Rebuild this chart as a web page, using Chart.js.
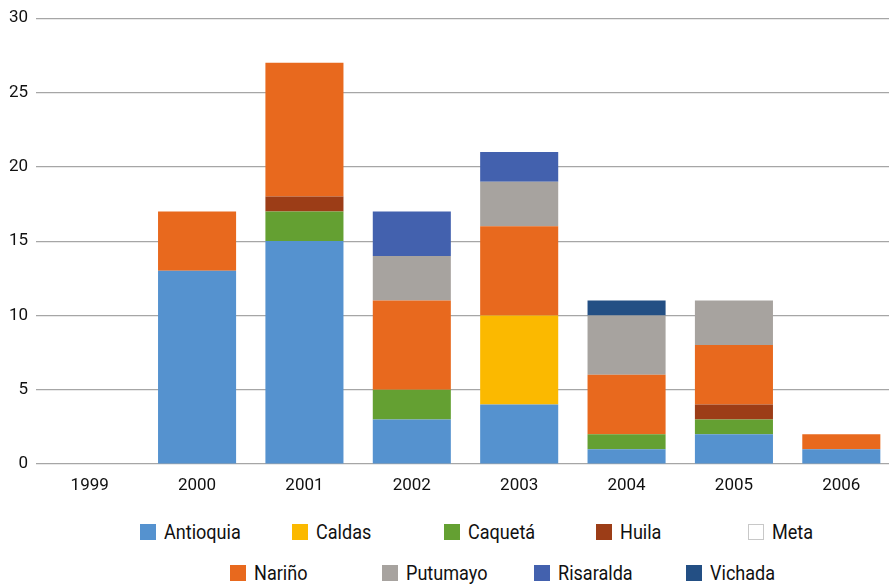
<!DOCTYPE html>
<html>
<head>
<meta charset="utf-8">
<script src="https://cdn.jsdelivr.net/npm/chart.js@4/dist/chart.umd.min.js"></script>
<style>
  html, body { margin: 0; padding: 0; background: #fff; overflow: hidden; width: 889px; height: 584px; }
  #wrap { position: absolute; left: 0; top: 0; width: 895px; height: 500px; }
  .legend-row { position: absolute; white-space: nowrap; font-family: "Roboto", sans-serif; font-size: 21px; color: #111; }
  .item { position: absolute; top: 0; height: 24px; line-height: 24px; }
  .box { position: absolute; left: 0; top: 4px; width: 16px; height: 16px; box-sizing: border-box; }
  .txt { position: absolute; left: 24px; top: 0; transform: scaleX(0.86); transform-origin: 0 50%; }
</style>
</head>
<body>
<div id="wrap"><canvas id="c"></canvas></div>
<div id="leg1" class="legend-row" style="left:140px; top:520px;"></div>
<div id="leg2" class="legend-row" style="left:230px; top:561px;"></div>
<script>
const years = ["1999", "2000", "2001", "2002", "2003", "2004", "2005", "2006"];
const seriesNames = ["Antioquia", "Caldas", "Caquetá", "Huila", "Meta", "Nariño", "Putumayo", "Risaralda", "Vichada"];
const antioquia = [0, 13, 15, 3, 4, 1, 2, 1];
const caldas    = [0, 0, 0, 0, 6, 0, 0, 0];
const caqueta   = [0, 0, 2, 2, 0, 1, 1, 0];
const huila     = [0, 0, 1, 0, 0, 0, 1, 0];
const meta      = [0, 0, 0, 0, 0, 0, 0, 0];
const narino    = [0, 4, 9, 6, 6, 4, 4, 1];
const putumayo  = [0, 0, 0, 3, 3, 4, 3, 0];
const risaralda = [0, 0, 0, 3, 2, 0, 0, 0];
const vichada   = [0, 0, 0, 0, 0, 1, 0, 0];
const yTicks = [0, 5, 10, 15, 20, 25, 30];

const values = [antioquia, caldas, caqueta, huila, meta, narino, putumayo, risaralda, vichada];
const colors = ["#5592CF", "#FBB900", "#64A032", "#9C3D17", "#FFFFFF", "#E8691E", "#A7A39F", "#4361AE", "#234F84"];
const borders = [null, null, null, null, "#C8C8C8", null, null, null, null];

const FONT = "'Roboto', sans-serif";

const datasets = seriesNames.map((n, i) => ({
  label: n,
  data: values[i].map(v => (v === 0 ? null : v)),
  backgroundColor: colors[i],
  borderWidth: 0,
  barPercentage: 0.727,
  categoryPercentage: 1.0
}));

new Chart(document.getElementById('c'), {
  type: 'bar',
  data: { labels: years, datasets },
  options: {
    responsive: true,
    maintainAspectRatio: false,
    animation: false,
    layout: { padding: { top: 11, left: 0, right: 0, bottom: 0 } },
    plugins: { legend: { display: false }, tooltip: { enabled: false } },
    scales: {
      x: {
        stacked: true,
        grid: { display: false },
        border: { display: false },
        ticks: { color: '#111', font: { family: FONT, size: 17 }, padding: 4 },
        afterFit: s => { s.height = 36; }
      },
      y: {
        stacked: true,
        min: 0, max: 30,
        afterBuildTicks: s => { s.ticks = yTicks.map(v => ({ value: v })); },
        grid: { color: '#A6A6A6', lineWidth: 1.2, drawTicks: false },
        border: { display: false },
        ticks: { color: '#111', font: { family: FONT, size: 17 }, padding: 8 },
        afterFit: s => { s.width = 36; }
      }
    }
  }
});

function buildLegend(el, idxs) {
  idxs.forEach((i, k) => {
    const it = document.createElement('span');
    it.className = 'item';
    it.style.left = (k * 152) + 'px';
    const b = document.createElement('span');
    b.className = 'box';
    b.style.background = colors[i];
    if (borders[i]) b.style.border = '1px solid ' + borders[i];
    it.appendChild(b);
    const t = document.createElement('span');
    t.className = 'txt';
    t.textContent = seriesNames[i];
    it.appendChild(t);
    el.appendChild(it);
  });
}
buildLegend(document.getElementById('leg1'), [0, 1, 2, 3, 4]);
buildLegend(document.getElementById('leg2'), [5, 6, 7, 8]);
</script>
</body>
</html>
